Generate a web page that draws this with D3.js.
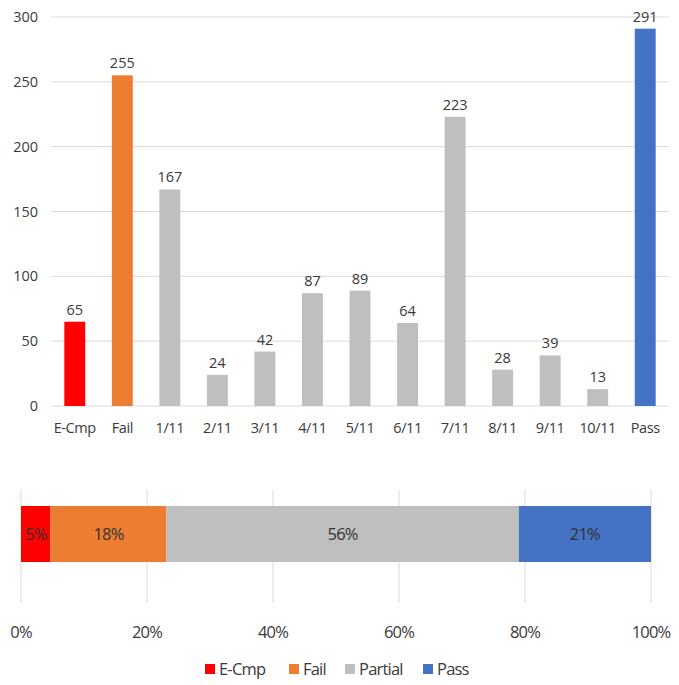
<!DOCTYPE html>
<html>
<head>
<meta charset="utf-8">
<script src="https://cdn.jsdelivr.net/npm/d3@7"></script>
<style>
  body { margin: 0; background: #fff; }
  svg { display: block; font-family: "Open Sans", "Noto Sans", sans-serif; }
</style>
</head>
<body>
<svg id="chart" width="679" height="685"></svg>
<script>
// Counts per outcome
const categories = ["E-Cmp", "Fail", "1/11", "2/11", "3/11", "4/11", "5/11", "6/11", "7/11", "8/11", "9/11", "10/11", "Pass"];
const counts = [65, 255, 167, 24, 42, 87, 89, 64, 223, 28, 39, 13, 291];
const yTicks = [0, 50, 100, 150, 200, 250, 300];
const groups = ["E-Cmp", "Fail", "Partial", "Pass"];
const pctTicks = [0, 0.2, 0.4, 0.6, 0.8, 1.0];

const colors = { "E-Cmp": "#FF0000", "Fail": "#ED7D31", "Partial": "#BFBFBF", "Pass": "#4472C4" };
const textColor = "#3a3a3a";
const gridColor = "#D9D9D9";

function groupOf(cat) {
  if (cat === "E-Cmp" || cat === "Fail" || cat === "Pass") return cat;
  return "Partial";
}

const svg = d3.select("#chart");

// ---- Column chart ----
const x = d3.scaleBand().domain(categories).range([51, 669]).paddingInner(0.56).paddingOuter(0.28);
const y = d3.scaleLinear().domain([0, 300]).range([406, 17]);

const colChart = svg.append("g");
colChart.selectAll("line.grid").data(yTicks).join("line")
  .attr("x1", 51).attr("x2", 669)
  .attr("y1", d => y(d)).attr("y2", d => y(d))
  .attr("stroke", gridColor).attr("stroke-width", 1);

colChart.selectAll("text.ytick").data(yTicks).join("text")
  .attr("x", 38).attr("y", d => y(d)).attr("dy", "0.35em")
  .attr("text-anchor", "end").attr("fill", textColor)
  .attr("font-size", 14.5).text(d => d);

colChart.selectAll("rect.bar").data(categories).join("rect")
  .attr("x", c => x(c)).attr("width", x.bandwidth())
  .attr("y", (c, i) => y(counts[i])).attr("height", (c, i) => y(0) - y(counts[i]))
  .attr("fill", c => colors[groupOf(c)]);

colChart.selectAll("text.val").data(categories).join("text")
  .attr("x", c => x(c) + x.bandwidth() / 2)
  .attr("y", (c, i) => y(counts[i]) - 7)
  .attr("text-anchor", "middle").attr("fill", textColor)
  .attr("font-size", 14.5).text((c, i) => counts[i]);

colChart.selectAll("text.cat").data(categories).join("text")
  .attr("x", c => x(c) + x.bandwidth() / 2).attr("y", 428).attr("dy", "0.35em")
  .attr("text-anchor", "middle").attr("fill", textColor)
  .attr("font-size", 14.5).attr("letter-spacing", "-0.4px").text(c => c);

// ---- 100% stacked bar ----
const totals = groups.map(g => d3.sum(categories.map((c, i) => groupOf(c) === g ? counts[i] : 0)));
const grand = d3.sum(totals);
let acc = 0;
const segs = groups.map((g, i) => {
  const s = { group: g, start: acc / grand, share: totals[i] / grand };
  acc += totals[i];
  return s;
});

const xp = d3.scaleLinear().domain([0, 1]).range([21, 651]);
const stackChart = svg.append("g");

stackChart.selectAll("line.vgrid").data(pctTicks).join("line")
  .attr("x1", d => xp(d)).attr("x2", d => xp(d))
  .attr("y1", 490).attr("y2", 603)
  .attr("stroke", gridColor).attr("stroke-width", 1);

stackChart.selectAll("rect.seg").data(segs).join("rect")
  .attr("x", d => xp(d.start)).attr("width", d => xp(d.start + d.share) - xp(d.start))
  .attr("y", 506).attr("height", 56)
  .attr("fill", d => colors[d.group]);

stackChart.selectAll("text.seglabel").data(segs).join("text")
  .attr("x", d => xp(d.start + d.share / 2)).attr("y", 534).attr("dy", "0.35em")
  .attr("text-anchor", "middle").attr("fill", "#333")
  .attr("font-size", 16.5).attr("letter-spacing", "-0.8px")
  .text(d => Math.round(d.share * 100) + "%");

stackChart.selectAll("text.ptick").data(pctTicks).join("text")
  .attr("x", d => xp(d)).attr("y", 632).attr("dy", "0.35em")
  .attr("text-anchor", "middle").attr("fill", textColor)
  .attr("font-size", 16.5).attr("letter-spacing", "-0.8px")
  .text(d => Math.round(d * 100) + "%");

// ---- Legend ----
const legendItems = [
  { g: "E-Cmp", x: 205 },
  { g: "Fail", x: 289 },
  { g: "Partial", x: 345 },
  { g: "Pass", x: 423 }
];
const leg = svg.append("g");
leg.selectAll("rect").data(legendItems).join("rect")
  .attr("x", d => d.x).attr("y", 664).attr("width", 10).attr("height", 10)
  .attr("fill", d => colors[d.g]);
leg.selectAll("text").data(legendItems).join("text")
  .attr("x", d => d.x + 14).attr("y", 669).attr("dy", "0.35em")
  .attr("fill", textColor).attr("font-size", 16.5).attr("letter-spacing", "-0.8px")
  .text(d => d.g);
</script>
</body>
</html>
